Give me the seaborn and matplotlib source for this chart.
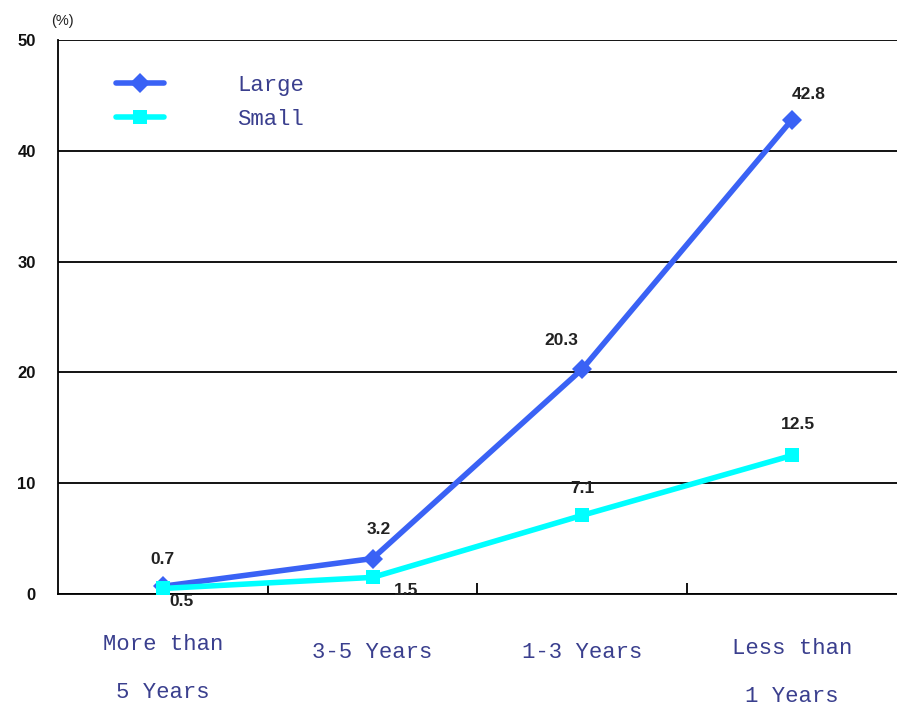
import matplotlib
matplotlib.use("Agg")
import matplotlib.pyplot as plt
import matplotlib.transforms as mtransforms
from matplotlib.lines import Line2D
import seaborn as sns
import pandas as pd

categories = ["More than\n5 Years", "3-5 Years", "1-3 Years", "Less than\n1 Years"]
large = [0.7, 3.2, 20.3, 42.8]
small = [0.5, 1.5, 7.1, 12.5]
y_ticks = [0, 10, 20, 30, 40, 50]

sns.set_theme(style="white")
plt.rcParams["font.family"] = ["Liberation Sans", "DejaVu Sans"]

df = pd.DataFrame({
    "cat": categories * 2,
    "pos": list(range(len(categories))) * 2,
    "value": large + small,
    "series": ["Large"] * 4 + ["Small"] * 4,
})

fig = plt.figure(figsize=(8.97, 7.09), dpi=100)
ax = fig.add_axes([0.0647, 0.1622, 0.935, 0.7814])

blue = "#3a62f5"
cyan = "#00ffff"
sns.lineplot(data=df, x="pos", y="value", hue="series", style="series",
             palette={"Large": blue, "Small": cyan},
             markers={"Large": "D", "Small": "s"}, dashes=False,
             linewidth=4, markersize=10, markeredgewidth=0, ax=ax, legend=False,
             zorder=3)

ax.set_xlim(-0.5, 3.5)
ax.set_ylim(0, 50)
ax.set_yticks(y_ticks)
ax.set_yticklabels([str(v) for v in y_ticks], fontsize=12, fontweight="bold", color="#111111")
ax.yaxis.grid(True, color="black", linewidth=1.3)
ax.set_axisbelow(True)
for s in ["top", "right"]:
    ax.spines[s].set_visible(False)
ax.spines["left"].set_color("black")
ax.spines["left"].set_linewidth(1.3)
ax.spines["bottom"].set_color("black")
ax.spines["bottom"].set_linewidth(1.3)
ax.tick_params(axis="y", length=0, pad=16)
ax.set_xlabel("")
ax.set_ylabel("")

# x tick marks at category boundaries
ax.set_xticks([0.5, 1.5, 2.5], minor=True)
ax.tick_params(axis="x", which="minor", direction="in", length=8, width=1.3, color="black", bottom=True)
ax.set_xticks([])

# category labels
trans = mtransforms.blended_transform_factory(ax.transData, fig.transFigure)
label_color = "#3a3f8e"
label_font = ["Liberation Mono", "DejaVu Sans Mono"]
for i, c in enumerate(categories):
    if "\n" in c:
        l1, l2 = c.split("\n")
        y1 = 1 - 645 / 709 if i == 0 else 1 - 648 / 709
        y2 = 1 - 693 / 709 if i == 0 else 1 - 696 / 709
        ax.text(i, y1, l1, transform=trans, ha="center", va="center",
                fontsize=16, color=label_color, family=label_font)
        ax.text(i, y2, l2, transform=trans, ha="center", va="center",
                fontsize=16, color=label_color, family=label_font)
    else:
        ax.text(i, 1 - 653 / 709, c, transform=trans, ha="center", va="center",
                fontsize=16, color=label_color, family=label_font)

# data labels
lbl_kw = dict(fontsize=12.5, fontweight="bold", color="#222222", zorder=4)
large_off = [(0.0, 2.4), (0.03, 2.6), (-0.1, 2.6), (0.08, 2.3)]
small_off = [(0.09, -1.2), (0.16, -1.2), (0.0, 2.4), (0.03, 2.8)]
for i, v in enumerate(large):
    dx, dy = large_off[i]
    ax.text(i + dx, v + dy, f"{v}", ha="center", va="center", **lbl_kw)
for i, v in enumerate(small):
    dx, dy = small_off[i]
    ax.text(i + dx, v + dy, f"{v}", ha="center", va="center", clip_on=False, **lbl_kw)

# unit label
fig.text(62 / 897, 1 - 21 / 709, "(%)", fontsize=10.5, ha="center", va="center", color="#222222")

# legend
handles = [Line2D([], [], color=blue, marker="D", markersize=10, linewidth=4, markeredgewidth=0),
           Line2D([], [], color=cyan, marker="s", markersize=10, linewidth=4, markeredgewidth=0)]
leg = ax.legend(handles, ["Large", "Small"], loc="upper left", bbox_to_anchor=(0.045, 0.973),
                frameon=False, handlelength=2.15, handletextpad=3.3, labelspacing=0.59,
                prop={"family": label_font, "size": 16})
for t in leg.get_texts():
    t.set_color(label_color)

fig.savefig("out.png", dpi=100, facecolor="white")
